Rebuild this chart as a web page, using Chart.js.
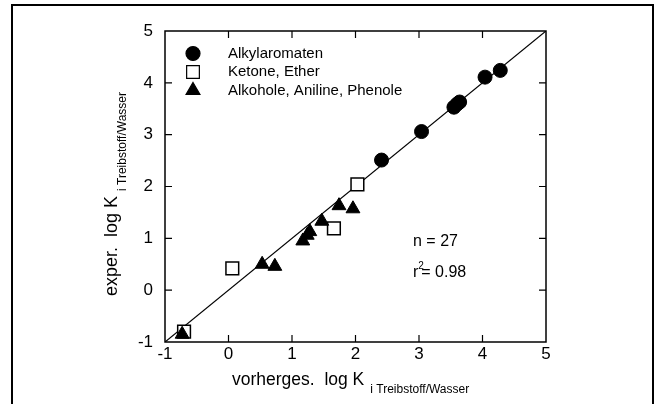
<!DOCTYPE html>
<html>
<head>
<meta charset="utf-8">
<script src="https://cdn.jsdelivr.net/npm/chart.js@4"></script>
<style>
  html, body { margin: 0; padding: 0; background: #fff; }
  #wrap { width: 658px; height: 404px; }
</style>
</head>
<body>
<div id="wrap"><canvas id="chart" width="658" height="404"></canvas></div>
<script>
// Alkylaromaten (filled circles)
const alkylX = [2.41, 3.04, 3.55, 3.60, 3.64, 4.04, 4.28];
const alkylY = [2.51, 3.06, 3.53, 3.59, 3.63, 4.11, 4.24];
// Ketone, Ether (open squares)
const ketonX = [-0.70, 0.06, 1.66, 2.03];
const ketonY = [-0.80, 0.42, 1.19, 2.04];
// Alkohole, Aniline, Phenole (filled triangles)
const alkoholX = [-0.73, 0.53, 0.73, 1.17, 1.24, 1.28, 1.47, 1.74, 1.96];
const alkoholY = [-0.85, 0.50, 0.46, 0.95, 1.06, 1.13, 1.33, 1.63, 1.57];
// 1:1 line
const lineX = [-1, 5];
const lineY = [-1, 5];
const tickValues = [-1, 0, 1, 2, 3, 4, 5];

const seriesNames = ['Alkylaromaten', 'Ketone, Ether', 'Alkohole, Aniline, Phenole'];

const toPoints = (xs, ys) => xs.map((x, i) => ({ x: x, y: ys[i] }));
const FONT = '"Liberation Sans", Arial, Helvetica, sans-serif';

const frameAndText = {
    id: 'frameAndText',
    afterDraw(chart) {
        const ctx = chart.ctx;
        const area = chart.chartArea;
        const xs = chart.scales.x;
        const ys = chart.scales.y;
        ctx.save();
        ctx.strokeStyle = '#000';

        // outer frame
        ctx.lineWidth = 2;
        ctx.strokeRect(12, 5, 641, 420);

        // plot frame
        ctx.lineWidth = 1.5;
        ctx.strokeRect(area.left, area.top, area.right - area.left, area.bottom - area.top);

        // inner ticks on all four sides
        const len = 7;
        ctx.lineWidth = 1.2;
        ctx.beginPath();
        tickValues.slice(1, -1).forEach(v => {
            const px = xs.getPixelForValue(v);
            ctx.moveTo(px, area.bottom); ctx.lineTo(px, area.bottom - len);
            ctx.moveTo(px, area.top); ctx.lineTo(px, area.top + len);
            const py = ys.getPixelForValue(v);
            ctx.moveTo(area.left, py); ctx.lineTo(area.left + len, py);
            ctx.moveTo(area.right, py); ctx.lineTo(area.right - len, py);
        });
        ctx.stroke();

        // legend
        const styles = chart.data.datasets.slice(0, 3);
        const lx = xs.getPixelForValue(-1) + 28;
        let ly = ys.getPixelForValue(5) + 22.5;
        ctx.font = '15px ' + FONT;
        ctx.textBaseline = 'middle';
        ctx.textAlign = 'left';
        styles.forEach((ds, i) => {
            ctx.fillStyle = ds.backgroundColor;
            ctx.strokeStyle = '#000';
            Chart.helpers.drawPoint(ctx, {
                pointStyle: ds.pointStyle,
                radius: ds.pointRadius,
                borderWidth: ds.borderWidth,
                rotation: 0
            }, lx, ly);
            ctx.fillStyle = '#000';
            ctx.fillText(seriesNames[i], lx + 35, ly);
            ly += 18.5;
        });

        // statistics
        ctx.font = '16px ' + FONT;
        ctx.fillText('n = 27', 413, 242);
        ctx.fillText('r', 413, 273);
        let w = ctx.measureText('r').width;
        ctx.font = '10px ' + FONT;
        ctx.fillText('2', 413 + w, 266);
        ctx.font = '16px ' + FONT;
        ctx.fillText('= 0.98', 413 + w + 3, 273);

        // x axis title
        ctx.textBaseline = 'alphabetic';
        ctx.font = '17.5px ' + FONT;
        const xMain = 'vorherges.  log K';
        const xm = ctx.measureText(xMain).width;
        ctx.fillText(xMain, 232, 385);
        ctx.font = '12px ' + FONT;
        ctx.fillText('i Treibstoff/Wasser', 232 + xm + 6, 393);

        // y axis title (rotated)
        ctx.translate(117, 296);
        ctx.rotate(-Math.PI / 2);
        ctx.font = '18px ' + FONT;
        const yMain = 'exper.  log K';
        const ym = ctx.measureText(yMain).width;
        ctx.fillText(yMain, 0, 0);
        ctx.font = '12px ' + FONT;
        ctx.fillText('i Treibstoff/Wasser', ym + 5, 9);
        ctx.restore();
    }
};

new Chart(document.getElementById('chart'), {
    type: 'scatter',
    data: {
        datasets: [
            {
                label: seriesNames[0],
                data: toPoints(alkylX, alkylY),
                pointStyle: 'circle',
                pointRadius: 7,
                backgroundColor: '#000',
                borderColor: '#000',
                borderWidth: 1,
                order: 1
            },
            {
                label: seriesNames[1],
                data: toPoints(ketonX, ketonY),
                pointStyle: 'rect',
                pointRadius: 9,
                backgroundColor: '#fff',
                borderColor: '#000',
                borderWidth: 1.5,
                order: 2
            },
            {
                label: seriesNames[2],
                data: toPoints(alkoholX, alkoholY),
                pointStyle: 'triangle',
                pointRadius: 8,
                backgroundColor: '#000',
                borderColor: '#000',
                borderWidth: 1,
                order: 0
            },
            {
                type: 'line',
                label: 'fit',
                data: toPoints(lineX, lineY),
                borderColor: '#000',
                borderWidth: 1.2,
                pointRadius: 0,
                fill: false,
                order: 10
            }
        ]
    },
    options: {
        responsive: false,
        animation: false,
        layout: { padding: { left: 0, top: 31, right: 112, bottom: 0 } },
        plugins: {
            legend: { display: false },
            tooltip: { enabled: false }
        },
        scales: {
            x: {
                type: 'linear',
                min: -1,
                max: 5,
                grid: { display: false, drawTicks: false },
                border: { display: false },
                ticks: {
                    stepSize: 1,
                    padding: 2,
                    color: '#000',
                    font: { family: FONT, size: 17 }
                },
                afterFit(scale) { scale.height = 62; }
            },
            y: {
                type: 'linear',
                min: -1,
                max: 5,
                grid: { display: false, drawTicks: false },
                border: { display: false },
                ticks: {
                    stepSize: 1,
                    padding: 12,
                    color: '#000',
                    font: { family: FONT, size: 17 }
                },
                afterFit(scale) { scale.width = 165; }
            }
        }
    },
    plugins: [frameAndText]
});
</script>
</body>
</html>
